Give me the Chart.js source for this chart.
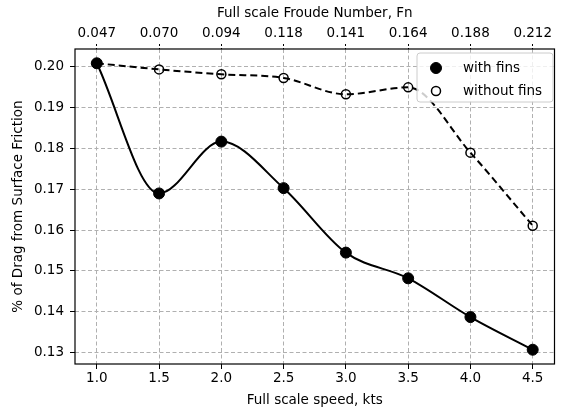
<!DOCTYPE html>
<html>
<head>
<meta charset="utf-8">
<script src="https://cdn.jsdelivr.net/npm/chart.js@4/dist/chart.umd.min.js"></script>
<style>
  html, body { margin: 0; padding: 0; background: #fff; }
  #wrap { width: 561px; height: 414px; }
</style>
</head>
<body>
<div id="wrap"><canvas id="chart" width="561" height="414"></canvas></div>
<script>
const speeds = [1.0, 1.5, 2.0, 2.5, 3.0, 3.5, 4.0, 4.5];
const froudeLabels = ["0.047", "0.070", "0.094", "0.118", "0.141", "0.164", "0.188", "0.212"];
const withFins = [0.2009, 0.1690, 0.1817, 0.1703, 0.1545, 0.1482, 0.1387, 0.1307];
const withoutFins = [0.2009, 0.1994, 0.1982, 0.1973, 0.1933, 0.1950, 0.1790, 0.1611];
const yTicks = [0.13, 0.14, 0.15, 0.16, 0.17, 0.18, 0.19, 0.20];

const FONT = "'DejaVu Sans', sans-serif";
const gridStyle = {
  color: "#b0b0b0",
  lineWidth: 1,
  tickColor: "#000",
  tickLength: 5,
  tickBorderDash: [],
};
// in v4 the grid line dash lives on border.dash
const hiddenBorder = { display: false, dash: [4, 2.5] };

// frame around the plot + legend inside the top-right corner
const framePlugin = {
  id: "frame",
  afterDatasetsDraw(chart) {
    const { ctx, chartArea: a } = chart;
    ctx.save();
    ctx.strokeStyle = "#000";
    ctx.lineWidth = 1.2;
    ctx.strokeRect(a.left, a.top, a.right - a.left, a.bottom - a.top);

    // legend box
    const bx = 417, by = 53, bw = 136, bh = 49;
    ctx.beginPath();
    ctx.roundRect(bx, by, bw, bh, 3);
    ctx.fillStyle = "rgba(255,255,255,0.8)";
    ctx.fill();
    ctx.strokeStyle = "#cccccc";
    ctx.lineWidth = 1;
    ctx.stroke();

    ctx.font = "13.5px " + FONT;
    ctx.textBaseline = "middle";
    chart.data.datasets.forEach((ds, i) => {
      const cy = by + 15 + i * 23;
      ctx.beginPath();
      ctx.arc(bx + 19, cy, ds.pointRadius, 0, Math.PI * 2);
      ctx.fillStyle = ds.pointBackgroundColor;
      ctx.fill();
      ctx.lineWidth = ds.pointBorderWidth;
      ctx.strokeStyle = "#000";
      ctx.stroke();
      ctx.fillStyle = "#000";
      ctx.fillText(ds.label, bx + 46, cy);
    });
    ctx.restore();
  },
};

Chart.defaults.font.family = FONT;
Chart.defaults.font.size = 13.5;
Chart.defaults.color = "#000";

new Chart(document.getElementById("chart"), {
  type: "line",
  data: {
    datasets: [
      {
        label: "with fins",
        data: speeds.map((s, i) => ({ x: s, y: withFins[i] })),
        borderColor: "#000",
        borderWidth: 2,
        pointRadius: 5.5,
        pointBackgroundColor: "#000",
        pointBorderColor: "#000",
        pointBorderWidth: 1,
        cubicInterpolationMode: "monotone",
        fill: false,
      },
      {
        label: "without fins",
        data: speeds.map((s, i) => ({ x: s, y: withoutFins[i] })),
        borderColor: "#000",
        borderWidth: 2,
        borderDash: [7, 4],
        pointRadius: 4.5,
        pointBackgroundColor: "rgba(0,0,0,0)",
        pointBorderColor: "#000",
        pointBorderWidth: 1.5,
        cubicInterpolationMode: "monotone",
        fill: false,
      },
    ],
  },
  options: {
    responsive: false,
    animation: false,
    layout: { padding: { left: 0, right: 1, top: 0, bottom: 0 } },
    plugins: { legend: { display: false }, tooltip: { enabled: false } },
    scales: {
      x: {
        type: "linear",
        position: "bottom",
        min: 0.825,
        max: 4.675,
        afterBuildTicks: (s) => { s.ticks = speeds.map((v) => ({ value: v })); },
        afterFit: (s) => { s.height = 50; },
        ticks: { padding: 1, maxRotation: 0, callback: (v) => v.toFixed(1) },
        grid: gridStyle,
        border: hiddenBorder,
        title: { display: true, text: "Full scale speed, kts", padding: { top: 0, bottom: 5 } },
      },
      x2: {
        type: "linear",
        position: "top",
        min: 0.825,
        max: 4.675,
        afterBuildTicks: (s) => { s.ticks = speeds.map((v) => ({ value: v })); },
        afterFit: (s) => { s.height = 49; },
        ticks: {
          padding: 2,
          maxRotation: 0,
          callback: (v) => froudeLabels[speeds.indexOf(v)],
        },
        grid: { ...gridStyle, drawOnChartArea: false, tickBorderDash: [2, 2] },
        border: hiddenBorder,
        title: { display: true, text: "Full scale Froude Number, Fn", padding: { top: 5, bottom: 0 } },
      },
      y: {
        type: "linear",
        min: 0.1272,
        max: 0.2044,
        afterBuildTicks: (s) => { s.ticks = yTicks.map((v) => ({ value: v })); },
        afterFit: (s) => { s.width = 75; },
        ticks: { padding: 6, callback: (v) => v.toFixed(2) },
        grid: gridStyle,
        border: hiddenBorder,
        title: { display: true, text: "% of Drag from Surface Friction", padding: { top: 10, bottom: 0 } },
      },
    },
  },
  plugins: [framePlugin],
});
</script>
</body>
</html>
